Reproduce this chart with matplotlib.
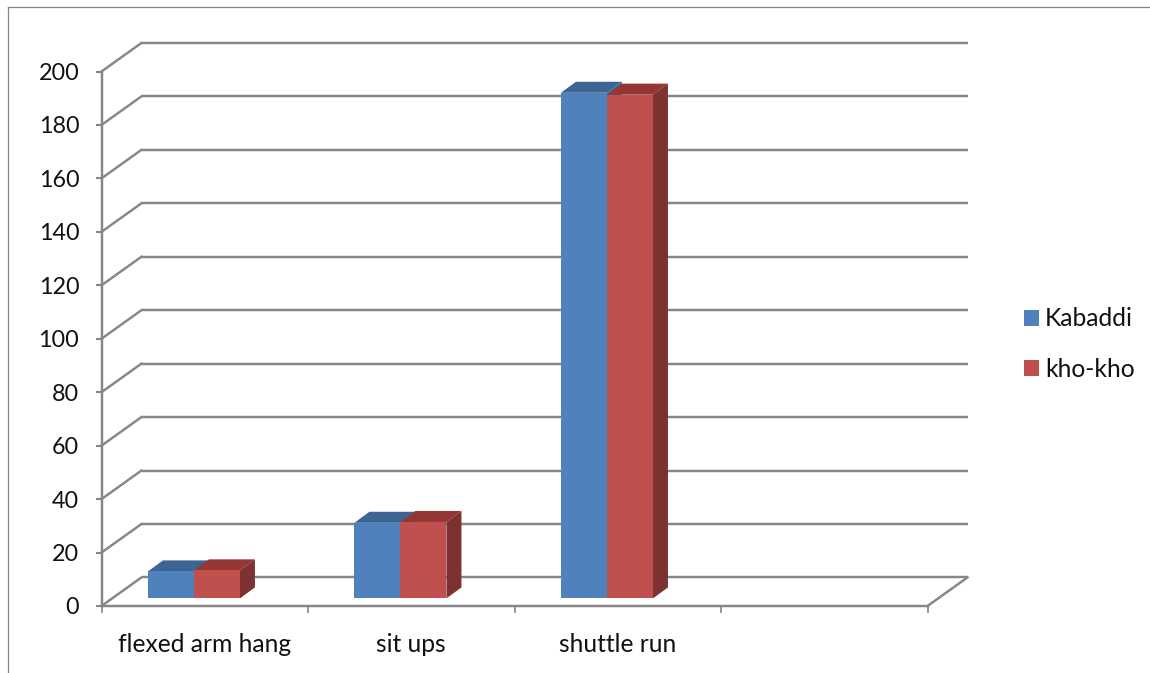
import matplotlib
matplotlib.use("Agg")
import matplotlib.pyplot as plt
from matplotlib.lines import Line2D

categories = ["flexed arm hang", "sit ups", "shuttle run"]
kabaddi = [10.1, 28.3, 189.2]
kho_kho = [10.5, 28.6, 188.5]
y_ticks = list(range(0, 201, 20))
n_slots = 4

W, H = 1150, 673
L, R, T, B = 101.5, 927.5, 71.5, 606
GRID = "#868686"
LW = 1.75
plt.rcParams["font.family"] = ["Lato", "DejaVu Sans"]
FS_Y = 16.8
FS = 17.7

fig = plt.figure(figsize=(W / 100, H / 100), dpi=100)
ax = fig.add_axes([L / W, 1 - B / H, (R - L) / W, (B - T) / H])
ax.set_xlim(0, n_slots)
ax.set_ylim(0, 200)

sx = (R - L) / n_slots
sy = (B - T) / 200
to_x = lambda px: px / sx
to_y = lambda px: px / sy

# back wall and side wall
wall_dx, wall_dy = to_x(40), to_y(28.6)
for v in y_ticks:
    ax.plot([wall_dx, n_slots + wall_dx], [v + wall_dy] * 2, color=GRID, lw=LW,
            clip_on=False, zorder=1, solid_capstyle="butt")
    ax.plot([0, wall_dx], [v, v + wall_dy], color=GRID, lw=LW, clip_on=False, zorder=1)
ax.plot([n_slots, n_slots + wall_dx], [0, wall_dy], color=GRID, lw=LW, clip_on=False, zorder=1)

# bars
bar_w = to_x(46)
base = to_y(7.6)
shift = to_x(-10.8)
depth_x, depth_y = to_x(15), to_y(11)
series = [("Kabaddi", kabaddi, "#4f81bd", "#3c6494", "#3c6494", -1),
          ("kho-kho", kho_kho, "#c0504d", "#943634", "#7d3130", 0)]
handles = []
for label, vals, front, top, side, off in series:
    for i, v in enumerate(vals):
        x0 = i + 0.5 + shift + off * bar_w
        x1 = x0 + bar_w
        yt = base + v
        ax.fill([x0, x0 + depth_x, x1 + depth_x, x1],
                [yt, yt + depth_y, yt + depth_y, yt], color=top, lw=0, zorder=3 + off)
        ax.fill([x1, x1 + depth_x, x1 + depth_x, x1],
                [base, base + depth_y, yt + depth_y, yt], color=side, lw=0, zorder=3 + off)
    xs = [i + 0.5 + shift + (off + 0.5) * bar_w for i in range(len(vals))]
    b = ax.bar(xs, vals, width=bar_w, bottom=base, color=front, lw=0, zorder=5, label=label)
    handles.append(b)

# axes
for s in ("top", "right"):
    ax.spines[s].set_visible(False)
for s in ("left", "bottom"):
    ax.spines[s].set_color(GRID)
    ax.spines[s].set_linewidth(LW)
    ax.spines[s].set_zorder(2)
ax.set_yticks(y_ticks)
ax.set_xticks(range(n_slots + 1))
ax.set_xticklabels([])
ax.set_xticks([i + 0.5 for i in range(len(categories))], categories, minor=True)
ax.tick_params(axis="y", length=4.5, width=1.5, color=GRID, pad=11.5, labelsize=FS_Y, labelcolor="#111111")
ax.tick_params(axis="x", which="major", length=5, width=1.2, color=GRID)
ax.tick_params(axis="x", which="minor", length=0, pad=19.5, labelsize=FS, labelcolor="#111111")

ax.legend(handles=handles, loc="center left", bbox_to_anchor=(1024 / W, 1 - 344 / H),
          bbox_transform=fig.transFigure, frameon=False, fontsize=FS,
          handlelength=0.6, handleheight=0.6, handletextpad=0.25,
          labelspacing=1.1, borderpad=0, borderaxespad=0, labelcolor="#111111")

# outer chart frame (left and top edges are visible in the crop)
fig.add_artist(Line2D([8 / W, 8 / W], [0, 1 - 7 / H], color=GRID, lw=0.9))
fig.add_artist(Line2D([8 / W, 1], [1 - 7 / H, 1 - 7 / H], color=GRID, lw=0.9))

fig.savefig("out.png", dpi=100)
